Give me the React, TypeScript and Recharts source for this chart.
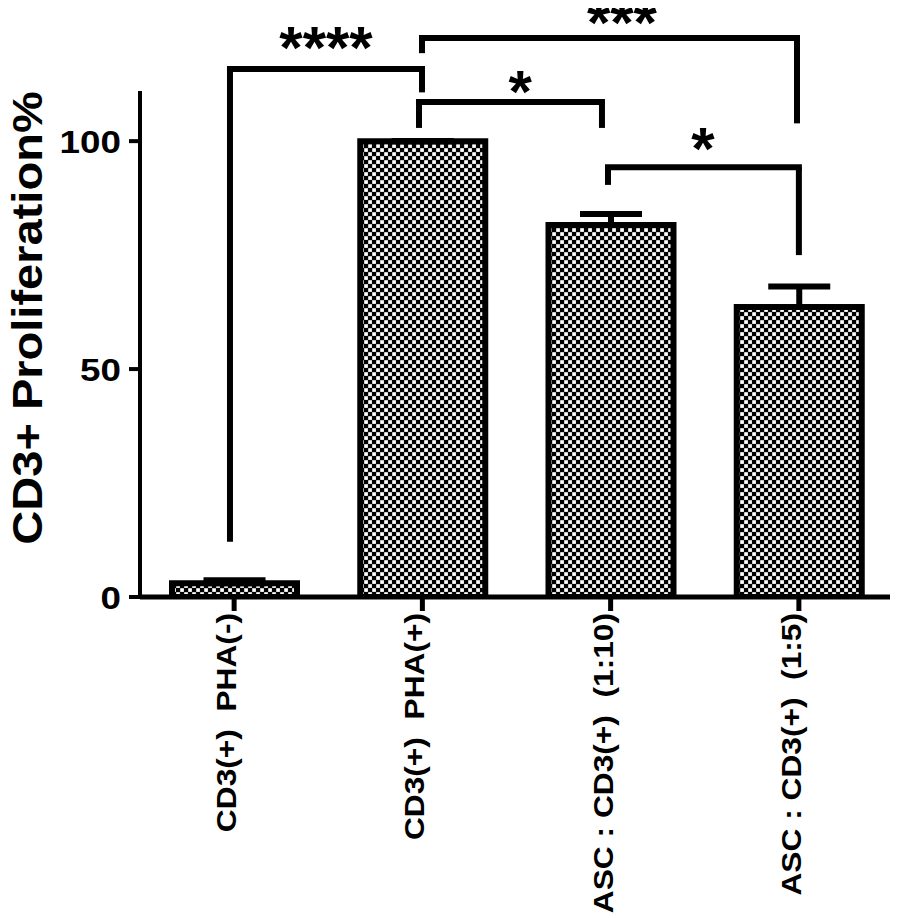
import React from 'react';
import { BarChart, Bar, XAxis, YAxis, ErrorBar, ReferenceLine, ReferenceDot, Label } from 'recharts';

const categories = ['CD3(+)  PHA(-)', 'CD3(+)  PHA(+)', 'ASC : CD3(+)  (1:10)', 'ASC : CD3(+)  (1:5)'];
const proliferation = [3, 100, 81.6, 63.6];
const sem = [0.7, 0, 2.4, 4.5];
const groupPos = [0.5, 1.5, 2.5, 3.5];
const yTicks = [0, 50, 100];

// significance brackets, x on a 0..4 group scale (group i centre = i + 0.5)
const bracketLabels = ['****', '***', '*', '*'];
const bracketX1 = [0.478, 1.498, 1.482, 2.486];
const bracketX2 = [1.498, 3.49, 2.454, 3.5];
const bracketTop = [115.8, 122.6, 108.6, 94.3];
const bracketLeftEnd = [12.1, 119.3, 102.9, 90.4];
const bracketRightEnd = [110.7, 103.9, 102.9, 75.0];
const starX = [0.988, 2.56, 2.019, 2.99];
const starY = [123.5, 129.0, 113.7, 101.2];

const data = categories.map((name, i) => ({
  name,
  pos: groupPos[i],
  value: proliferation[i],
  err: [0, sem[i]],
}));

const FONT = "'Liberation Sans', Arial, Helvetica, sans-serif";

const XTick = (props: any) => {
  const { x, y, payload } = props;
  return (
    <text
      transform={`translate(${x + 2},${y}) rotate(-90) scale(1.12,1)`}
      textAnchor="end"
      fontFamily={FONT}
      fontWeight="bold"
      fontSize={28.3}
      fill="#000"
      style={{ whiteSpace: 'pre' }}
    >
      {payload.value}
    </text>
  );
};

const YTick = (props: any) => {
  const { x, y, payload } = props;
  return (
    <text
      transform={`translate(${x},${y}) scale(1.15,1)`}
      textAnchor="end"
      dy="0.36em"
      fontFamily={FONT}
      fontWeight="bold"
      fontSize={32}
      fill="#000"
    >
      {payload.value}
    </text>
  );
};

const YLabel = (props: any) => {
  const vb = props.viewBox || { x: 8, y: 91, width: 132, height: 506 };
  const bx = vb.x + 34;
  const cy = vb.y + vb.height / 2 - 26;
  return (
    <text
      transform={`translate(${bx},${cy}) rotate(-90) scale(1.12,1)`}
      textAnchor="middle"
      fontFamily={FONT}
      fontWeight="bold"
      fontSize={42}
      fill="#000"
    >
      CD3+ Proliferation%
    </text>
  );
};

const Star = (text: string) => (p: any) => (
  <text
    x={p.cx}
    y={p.cy}
    dy="0.56em"
    textAnchor="middle"
    fontFamily={FONT}
    fontWeight="bold"
    fontSize={60}
    fill="#000"
  >
    {text}
  </text>
);

export default function App() {
  return (
    <div style={{ margin: '-8px 0 0 -8px', width: 898, height: 918 }}>
      <svg width={0} height={0} style={{ position: 'absolute' }}>
        <defs>
          <pattern id="checker" width={8} height={8} patternUnits="userSpaceOnUse">
            <rect width={8} height={8} fill="#000" />
            <rect x={0.2} y={0.2} width={3.7} height={3.7} fill="#fff" />
            <rect x={4.2} y={4.2} width={3.7} height={3.7} fill="#fff" />
          </pattern>
        </defs>
      </svg>
      <BarChart
        width={898}
        height={918}
        data={data}
        margin={{ top: 91, right: 5, bottom: 21, left: 8 }}
      >
        <XAxis
          xAxisId="cat"
          dataKey="name"
          interval={0}
          height={300}
          tickSize={14}
          tickMargin={2}
          axisLine={{ stroke: '#000', strokeWidth: 5 }}
          tickLine={{ stroke: '#000', strokeWidth: 5 }}
          tick={XTick}
        />
        <XAxis
          xAxisId="num"
          dataKey="pos"
          type="number"
          scale="linear"
          domain={[0, 4]}
          hide
          allowDataOverflow
        />
        <YAxis
          domain={[0, 111]}
          ticks={yTicks}
          allowDataOverflow
          width={132}
          tickSize={11}
          tickMargin={8}
          axisLine={{ stroke: '#000', strokeWidth: 4 }}
          tickLine={{ stroke: '#000', strokeWidth: 4 }}
          tick={YTick}
        >
          <Label content={YLabel} />
        </YAxis>
        <Bar
          xAxisId="cat"
          dataKey="value"
          fill="url(#checker)"
          stroke="#000"
          strokeWidth={6}
          barSize={125}
          isAnimationActive={false}
        >
          <ErrorBar dataKey="err" width={31} strokeWidth={6} stroke="#000" isAnimationActive={false} />
        </Bar>
        {bracketLabels.map((lab, i) => (
          <ReferenceLine
            key={`h${i}`}
            xAxisId="num"
            ifOverflow="visible"
            stroke="#000"
            strokeWidth={6}
            strokeLinecap="square"
            segment={[
              { x: bracketX1[i], y: bracketTop[i] },
              { x: bracketX2[i], y: bracketTop[i] },
            ]}
          />
        ))}
        {bracketLabels.map((lab, i) => (
          <ReferenceLine
            key={`l${i}`}
            xAxisId="num"
            ifOverflow="visible"
            stroke="#000"
            strokeWidth={6}
            segment={[
              { x: bracketX1[i], y: bracketTop[i] },
              { x: bracketX1[i], y: bracketLeftEnd[i] },
            ]}
          />
        ))}
        {bracketLabels.map((lab, i) => (
          <ReferenceLine
            key={`r${i}`}
            xAxisId="num"
            ifOverflow="visible"
            stroke="#000"
            strokeWidth={6}
            segment={[
              { x: bracketX2[i], y: bracketTop[i] },
              { x: bracketX2[i], y: bracketRightEnd[i] },
            ]}
          />
        ))}
        {bracketLabels.map((lab, i) => (
          <ReferenceDot
            key={`s${i}`}
            xAxisId="num"
            x={starX[i]}
            y={starY[i]}
            r={0}
            ifOverflow="visible"
            shape={Star(lab)}
          />
        ))}
      </BarChart>
    </div>
  );
}
